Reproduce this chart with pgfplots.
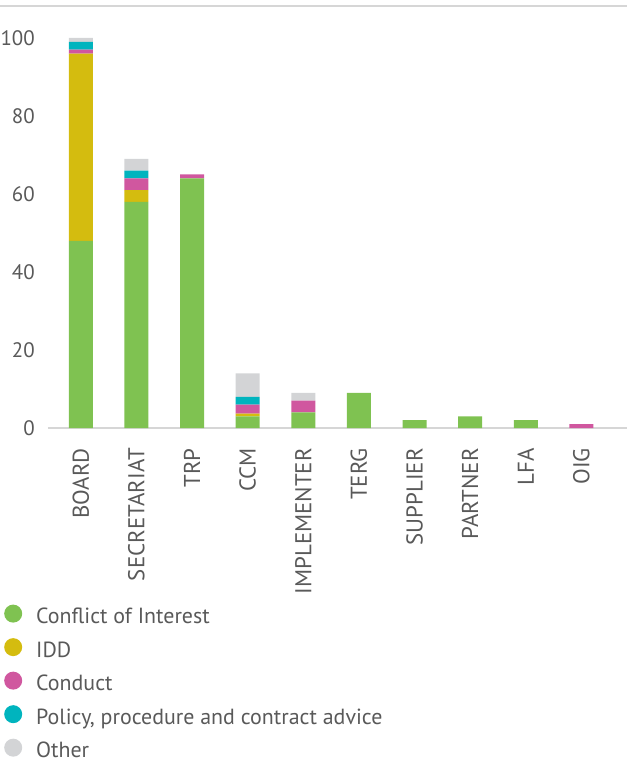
\documentclass[border=0pt]{standalone}
\usepackage{pgfplots}
\pgfplotsset{compat=1.18}
\usepackage{fontspec}
\setmainfont{PT Sans}

\definecolor{coi}{HTML}{7FC251}
\definecolor{idd}{HTML}{D4BC0F}
\definecolor{conduct}{HTML}{D0579F}
\definecolor{policy}{HTML}{00B4BE}
\definecolor{other}{HTML}{D3D4D6}
\definecolor{txt}{HTML}{595959}
\definecolor{rulegray}{HTML}{D6D6D6}

\begin{document}
\begin{tikzpicture}
\useasboundingbox (-48bp,-337bp) rectangle (579bp,428bp);
\begin{axis}[
    at={(0,0)}, anchor=south west,
    scale only axis,
    width=579bp, height=422bp,
    ybar stacked,
    bar width=24bp,
    xmin=-0.59, xmax=9.82,
    ymin=0, ymax=108.2,
    xtick={0,...,9},
    xticklabels={BOARD,SECRETARIAT,TRP,CCM,IMPLEMENTER,TERG,SUPPLIER,PARTNER,LFA,OIG},
    ytick={0,20,...,100},
    axis line style={draw=none},
    major tick length=0pt,
    tick label style={text=txt},
    xticklabel style={font=\fontsize{23}{27}\selectfont, rotate=90, anchor=east, inner sep=0pt},
    xticklabel shift=20bp,
    yticklabel style={font=\fontsize{21}{25}\selectfont, anchor=east, inner sep=0pt},
    yticklabel shift=13bp,
    /pgf/number format/assume math mode=true,
    clip=false,
    legend image code/.code={\fill[#1] (9bp,0.3em) circle (9bp); \path (0bp,0bp) (32bp,0bp);},
    legend style={draw=none, fill=none, at={(-0.076,-0.418)}, anchor=north west,
        font=\fontsize{22}{26}\selectfont, text=txt, row sep=13bp, inner sep=0pt,
        nodes={inner sep=0pt}},
    legend cell align=left,
  ]
  % Conflict of Interest
  \addplot[fill=coi, draw=none] coordinates {(0,48) (1,58) (2,64) (3,3) (4,4) (5,9) (6,2) (7,3) (8,2) (9,0)};
  % IDD
  \addplot[fill=idd, draw=none] coordinates {(0,48) (1,3) (2,0) (3,0.7) (4,0) (5,0) (6,0) (7,0) (8,0) (9,0)};
  % Conduct
  \addplot[fill=conduct, draw=none] coordinates {(0,1) (1,3) (2,1) (3,2.3) (4,3) (5,0) (6,0) (7,0) (8,0) (9,1)};
  % Policy
  \addplot[fill=policy, draw=none] coordinates {(0,2) (1,2) (2,0) (3,2) (4,0) (5,0) (6,0) (7,0) (8,0) (9,0)};
  % Other
  \addplot[fill=other, draw=none] coordinates {(0,1) (1,3) (2,0) (3,6) (4,2) (5,0) (6,0) (7,0) (8,0) (9,0)};
  \legend{Conflict of Interest, IDD, Conduct, {Policy, procedure and contract advice}, Other}
  \draw[rulegray, line width=1.5bp] (rel axis cs:0,0) -- (rel axis cs:1,0);
  \draw[rulegray, line width=2bp] ([xshift=-48bp]rel axis cs:0,1) -- (rel axis cs:1,1);
\end{axis}
\end{tikzpicture}
\end{document}
